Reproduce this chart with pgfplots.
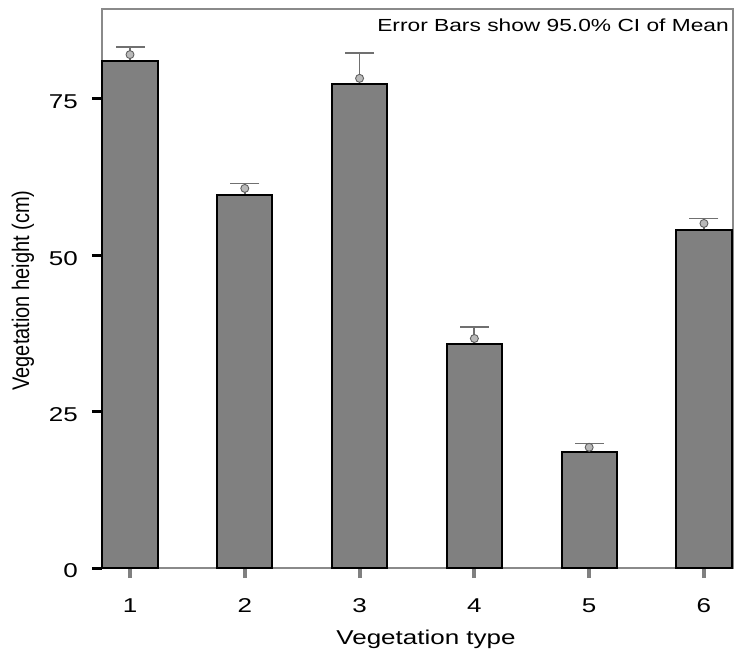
\documentclass[border=0pt]{standalone}
\usepackage{fontspec}
\setmainfont{Liberation Sans}[FakeStretch=1.3]
\newfontfamily\plainfont{Liberation Sans}
\usepackage{graphicx}
\usepackage{pgfplots}
\pgfplotsset{compat=1.18}
\definecolor{bargray}{HTML}{808080}
\definecolor{errgray}{HTML}{707070}
\definecolor{framegray}{HTML}{8A8A8A}
\begin{document}
\begin{tikzpicture}
\begin{axis}[
  scale only axis,
  width=631pt, height=559pt,
  xmin=0.756, xmax=6.253,
  ymin=0, ymax=89.39,
  xtick={1,2,3,4,5,6},
  ytick={0,25,50,75},
  /pgf/number format/assume math mode=true,
  tick align=outside,
  major tick length=10pt,
  xtick pos=bottom, ytick pos=left,
  xtick style={draw=bargray, line width=4pt},
  ytick style={draw=black, line width=3pt},
  axis line style={draw=framegray, line width=2pt},
  ticklabel style={font=\fontsize{20}{24}\selectfont, inner sep=0pt},
  xticklabel style={anchor=base, yshift=-34pt},
  yticklabel style={anchor=east, xshift=-14pt, yshift=-3pt},
  xlabel={Vegetation type},
  xlabel style={at={(axis description cs:0.5135,-0.1377)}, anchor=base, font=\fontsize{20}{24}\selectfont},
  ylabel={\scalebox{1}[1.2]{Vegetation height (cm)}},
  ylabel style={at={(axis description cs:-0.1252,0.4964)}, anchor=center, font=\plainfont\fontsize{20}{24}\selectfont},
  clip=false,
]
% whiskers up to the upper CI limit (lower part hidden behind the bars)
\addplot[ycomb, draw=errgray, line width=1.8pt, mark=none]
  coordinates {(1,83.3) (2,61.5) (3,82.3) (4,38.6) (5,19.9) (6,55.9)};
\addplot[ybar, bar width=0.48, fill=bargray, draw=black, line width=2pt]
  coordinates {(1,81.1) (2,59.65) (3,77.4) (4,35.8) (5,18.6) (6,54.05)};
% caps at upper CI limit
\addplot[only marks, mark=-, mark size=14.5pt,
  mark options={draw=errgray, line width=1.8pt}]
  coordinates {(1,83.3) (2,61.5) (3,82.3) (4,38.6) (5,19.9) (6,55.9)};
% means
\addplot[only marks, mark=*, mark size=4pt,
  mark options={fill=gray!55, draw=gray!75!black, line width=0.9pt}]
  coordinates {(1,82.1) (2,60.7) (3,78.3) (4,36.7) (5,19.3) (6,55.1)};
\node[anchor=base east, font=\fontsize{17.5}{21}\selectfont, inner sep=0pt]
  at (axis description cs:0.9937,0.9589) {Error Bars show 95.0\% CI of Mean};
\end{axis}
\pgfresetboundingbox
\path[use as bounding box] (-102pt,-81pt) rectangle (632pt,568pt);
\end{tikzpicture}
\end{document}
